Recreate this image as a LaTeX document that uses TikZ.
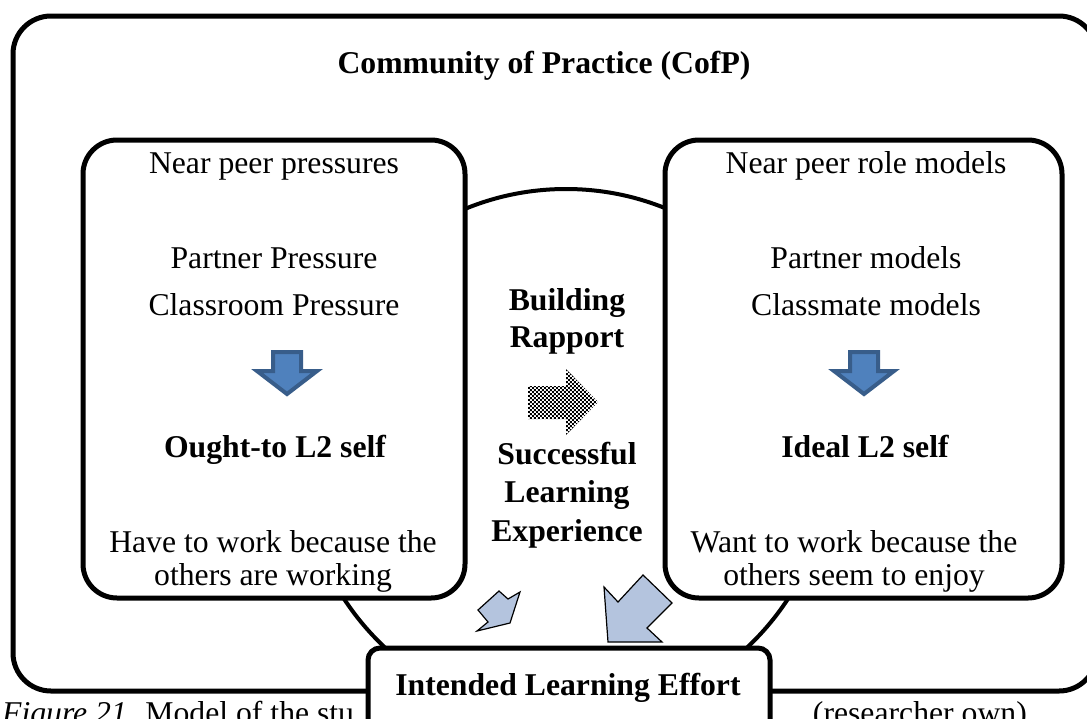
\documentclass[tikz,border=0pt]{standalone}
\usepackage{fontspec}
\setmainfont{Liberation Serif}
\usetikzlibrary{patterns}

\definecolor{officeblue}{RGB}{79,129,189}
\definecolor{officeedge}{RGB}{56,93,138}
\definecolor{paleblue}{RGB}{180,196,222}

% fine black/white checks for the middle arrow
\pgfdeclarepatternformonly{finechecks}{\pgfpointorigin}{\pgfqpoint{4.4pt}{4.4pt}}{\pgfqpoint{4.4pt}{4.4pt}}{
    \pgfpathrectangle{\pgfpointorigin}{\pgfqpoint{2.2pt}{2.2pt}}
    \pgfpathrectangle{\pgfqpoint{2.2pt}{2.2pt}}{\pgfqpoint{2.2pt}{2.2pt}}
    \pgfusepath{fill}
}

\begin{document}
\begin{tikzpicture}[x=1pt, y=-1pt]
    % --- Style Definitions ---
    \tikzset{
        % Outer frame around the whole community
        frame style/.style={
            draw=black,
            line width=5pt,
            rounded corners=38pt,
            fill=white,
            inner sep=0pt
        },
        % The two self boxes
        side box/.style={
            draw=black,
            line width=5pt,
            rounded corners=34pt,
            fill=white,
            inner sep=0pt
        },
        % Effort box at the bottom
        effort box/.style={
            draw=black,
            line width=5pt,
            rounded corners=12pt,
            fill=white,
            inner sep=0pt
        },
        % Text styling
        body text/.style={
            font=\fontsize{31.7}{38}\selectfont,
            anchor=base,
            inner sep=0pt
        },
        bold text/.style={
            body text,
            font=\fontsize{31.7}{38}\selectfont\bfseries
        },
        % Block arrows
        blue arrow/.style={
            fill=officeblue,
            draw=officeedge,
            line width=4pt,
            line join=miter
        },
        pale arrow/.style={
            fill=paleblue,
            draw=black,
            line width=1.2pt,
            line join=miter
        }
    }

    \useasboundingbox (0,0) rectangle (1087,718);

    % --- 1. Outer frame and the rapport circle ---
    \node[frame style, minimum width=1084pt, minimum height=675pt] (cofp) at (555,353.5) {};
    \node[circle, draw=black, line width=4pt, fill=white,
          minimum size=530pt, inner sep=0pt] (rapport) at (566,454) {};

    % --- 2. Side boxes ---
    \node[side box, minimum width=382pt, minimum height=458pt] (oughtBox) at (274,369) {};
    \node[side box, minimum width=397pt, minimum height=458pt] (idealBox) at (863.5,369) {};

    % --- 3. Title ---
    \node[bold text] (cofpTitle) at (544,73) {Community of Practice (CofP)};

    % --- 4. Left box (pressures) ---
    \node[body text] (nearPress) at (274,173) {Near peer pressures};
    \node[body text] (partnerPress) at (274,268) {Partner Pressure};
    \node[body text] (classPress) at (274,315) {Classroom Pressure};
    \node[bold text] (oughtSelf) at (275,457) {Ought-to L2 self};
    \node[body text] (haveWork) at (273,552) {Have to work because the};
    \node[body text] (othersWork) at (273,585) {others are working};

    % --- 5. Right box (role models) ---
    \node[body text] (nearModels) at (866,173) {Near peer role models};
    \node[body text] (partnerModels) at (866,268) {Partner models};
    \node[body text] (classModels) at (866,315) {Classmate models};
    \node[bold text] (idealSelf) at (865,457) {Ideal L2 self};
    \node[body text] (wantWork) at (854,552) {Want to work because the};
    \node[body text] (othersEnjoy) at (854,585) {others seem to enjoy};

    % --- 6. Middle of the circle ---
    \node[bold text] (building) at (567,310) {Building};
    \node[bold text] (rapportTxt) at (567,347) {Rapport};
    \node[bold text] (successful) at (567,464) {Successful};
    \node[bold text] (learning) at (567,502) {Learning};
    \node[bold text] (experience) at (567,541) {Experience};

    % Checkered arrow between the two selves
    \fill[pattern=finechecks] (528,386) -- (566,386) -- (566,369) -- (598,402)
        -- (566,435) -- (566,419) -- (528,419) -- cycle;

    % Blue arrows down to each self
    \draw[blue arrow, shift={(287,350)}] (-14,2) -- (14,2) -- (14,21) -- (30,21)
        -- (0,44) -- (-30,21) -- (-14,21) -- cycle;
    \draw[blue arrow, shift={(864,350)}] (-14,2) -- (14,2) -- (14,21) -- (30,21)
        -- (0,44) -- (-30,21) -- (-14,21) -- cycle;

    % Pale arrows into the effort box
    \draw[pale arrow] (499,591) -- (508,599) -- (520,592) -- (510,623)
        -- (477,631) -- (488,622) -- (478,610) -- cycle;
    \draw[pale arrow] (604,587) -- (618,602) -- (643,575) -- (672,603)
        -- (647,628) -- (662,642) -- (608,642) -- cycle;

    % --- 7. Caption (partly hidden under the effort box) ---
    \node[body text, anchor=base west] (captionL) at (2,723) {\textit{Figure 21.} Model of the stu};
    \node[body text, anchor=base east] (captionR) at (1027,723) {(researcher own)};

    % --- 8. Effort box ---
    \node[effort box, minimum width=402pt, minimum height=92pt] (effortBox) at (569,694) {};
    \node[bold text] (effort) at (568,695) {Intended Learning Effort};

\end{tikzpicture}
\end{document}
